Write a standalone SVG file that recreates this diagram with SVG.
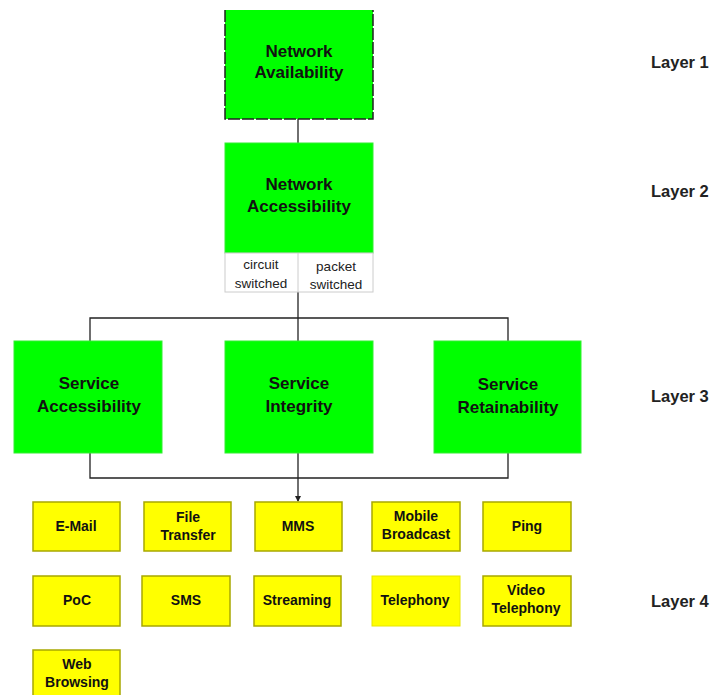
<svg xmlns="http://www.w3.org/2000/svg" width="713" height="695" viewBox="0 0 713 695">
<style>
text{font-family:"Liberation Sans",Arial,sans-serif;fill:#111;text-anchor:middle}
.g{fill:#00ff00;stroke:#33ee33;stroke-width:1}
.gt{font-size:17px;font-weight:bold}
.y{fill:#ffff00;stroke:#a8a800;stroke-width:1.5}
.yt{font-size:14px;font-weight:bold}
.lt{font-size:16.5px;font-weight:bold;fill:#222;text-anchor:start}
.st{font-size:13.5px;fill:#222}
.c{stroke:#222;stroke-width:1.3;fill:none}
</style>
<defs>
<marker id="arr" markerWidth="6" markerHeight="6" refX="5" refY="3" orient="auto" markerUnits="userSpaceOnUse">
<path d="M0,0 L6,3 L0,6 z" fill="#222"/>
</marker>
</defs>
<rect width="713" height="695" fill="#fff"/>
<g id="connectors">
<line class="c" x1="298" y1="119" x2="298" y2="143"/>
<line class="c" x1="298" y1="292" x2="298" y2="341"/>
<polyline class="c" points="90,341 90,318 508,318 508,341"/>
<polyline class="c" points="90,453 90,478 508,478 508,453"/>
<line class="c" x1="298" y1="453" x2="298" y2="501" marker-end="url(#arr)"/>
</g>
<g id="layer1">
<rect x="225" y="10" width="148" height="109" fill="#00ff00"/>
<path d="M225,10 V119 H373 V10" fill="none" stroke="#222" stroke-width="1.5" stroke-dasharray="12,2"/>
<text class="gt" x="299" y="57">Network</text>
<text class="gt" x="299" y="78">Availability</text>
</g>
<g id="network-accessibility">
<rect class="g" x="225" y="143" width="148" height="110"/>
<text class="gt" x="299" y="190">Network</text>
<text class="gt" x="299" y="212">Accessibility</text>
<rect x="225" y="253" width="148" height="39" fill="#fff" stroke="#ccc" stroke-width="1"/>
<line x1="298" y1="253" x2="298" y2="292" stroke="#ccc"/>
<text class="st" x="261" y="269">circuit</text>
<text class="st" x="261" y="288">switched</text>
<text class="st" x="336" y="271">packet</text>
<text class="st" x="336" y="289">switched</text>
</g>
<g id="service-accessibility">
<rect class="g" x="14" y="341" width="148" height="112"/>
<text class="gt" x="89" y="389">Service</text>
<text class="gt" x="89" y="412">Accessibility</text>
</g>
<g id="service-integrity">
<rect class="g" x="225" y="341" width="148" height="112"/>
<text class="gt" x="299" y="389">Service</text>
<text class="gt" x="299" y="412">Integrity</text>
</g>
<g id="service-retainability">
<rect class="g" x="434" y="341" width="147" height="112"/>
<text class="gt" x="508" y="390">Service</text>
<text class="gt" x="508" y="413">Retainability</text>
</g>
<g id="email"><rect class="y" x="33" y="502" width="87" height="49"/><text class="yt" x="76" y="531">E-Mail</text></g>
<g id="file-transfer"><rect class="y" x="144" y="502" width="87" height="49"/><text class="yt" x="188" y="522">File</text><text class="yt" x="188" y="540">Transfer</text></g>
<g id="mms"><rect class="y" x="255" y="502" width="87" height="49"/><text class="yt" x="298" y="531">MMS</text></g>
<g id="mobile-broadcast"><rect class="y" x="372" y="502" width="88" height="49"/><text class="yt" x="416" y="521">Mobile</text><text class="yt" x="416" y="539">Broadcast</text></g>
<g id="ping"><rect class="y" x="483" y="502" width="88" height="49"/><text class="yt" x="527" y="531">Ping</text></g>
<g id="poc"><rect class="y" x="33" y="576" width="87" height="50"/><text class="yt" x="77" y="605">PoC</text></g>
<g id="sms"><rect class="y" x="142" y="576" width="88" height="50"/><text class="yt" x="186" y="605">SMS</text></g>
<g id="streaming"><rect class="y" x="254" y="576" width="87" height="50"/><text class="yt" x="297" y="605">Streaming</text></g>
<g id="telephony"><rect x="372" y="576" width="88" height="50" fill="#ffff00" stroke="#e6e600" stroke-width="1"/><text class="yt" x="415" y="605">Telephony</text></g>
<g id="video-telephony"><rect class="y" x="483" y="576" width="88" height="50"/><text class="yt" x="526" y="595">Video</text><text class="yt" x="526" y="613">Telephony</text></g>
<g id="web-browsing"><rect class="y" x="33" y="650" width="87" height="50"/><text class="yt" x="77" y="669">Web</text><text class="yt" x="77" y="687">Browsing</text></g>
<g id="layer-labels">
<text class="lt" x="651" y="68">Layer 1</text>
<text class="lt" x="651" y="197">Layer 2</text>
<text class="lt" x="651" y="402">Layer 3</text>
<text class="lt" x="651" y="607">Layer 4</text>
</g>
</svg>
